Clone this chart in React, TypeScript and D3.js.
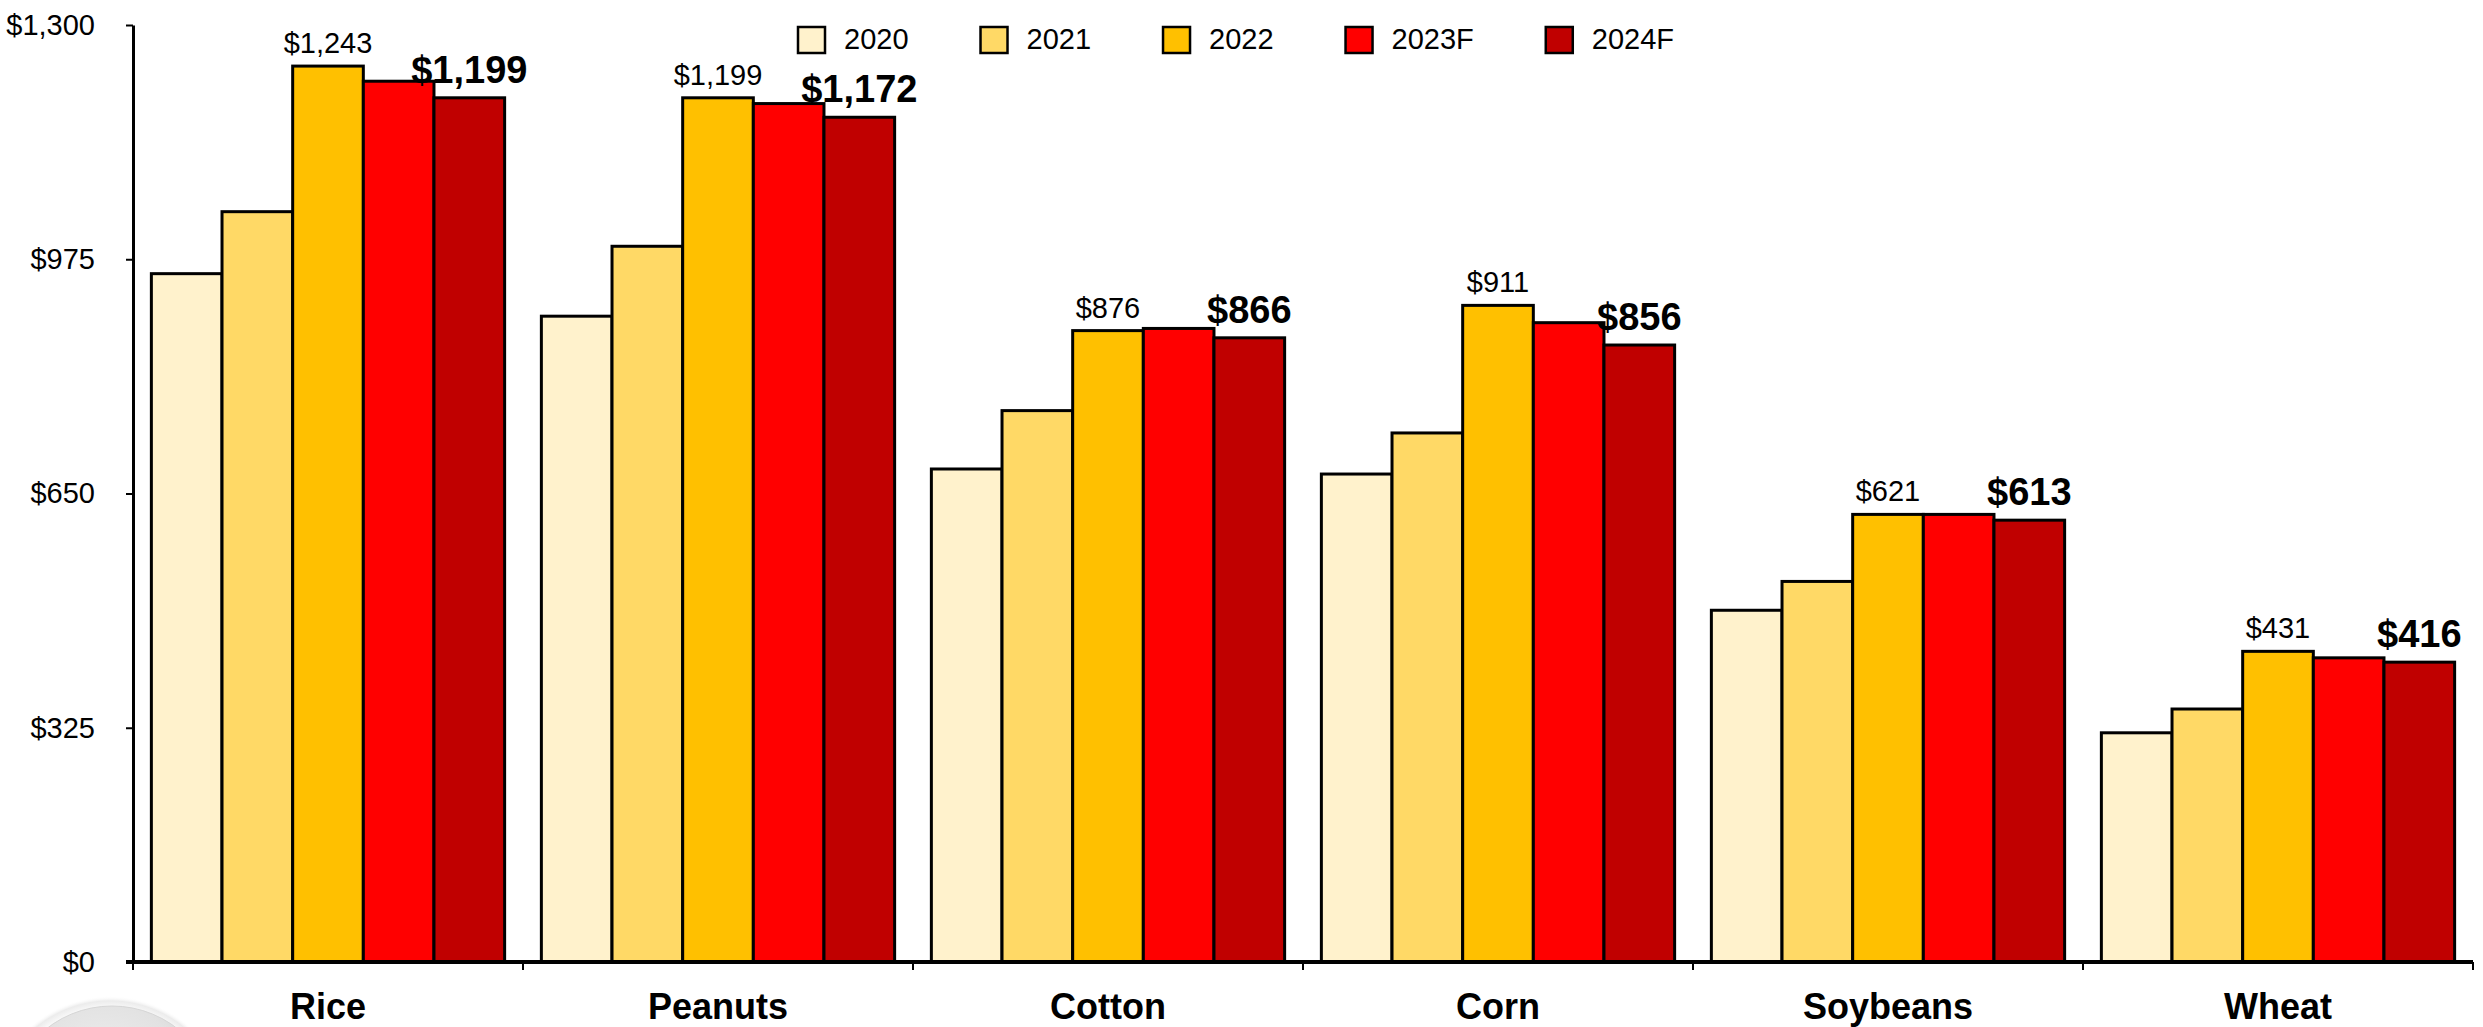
import React, { useEffect, useRef } from "react";
import * as d3 from "d3";

const categories = ["Rice", "Peanuts", "Cotton", "Corn", "Soybeans", "Wheat"];
const seriesNames = ["2020", "2021", "2022", "2023F", "2024F"];
const seriesColors = ["#FFF2CC", "#FFD966", "#FFC000", "#FF0000", "#C00000"];

const values2020 = [955, 896, 684, 677, 488, 318];
const values2021 = [1041, 993, 765, 734, 528, 351];
const values2022 = [1243, 1199, 876, 911, 621, 431];
const values2023F = [1222, 1191, 879, 887, 621, 422];
const values2024F = [1199, 1172, 866, 856, 613, 416];

const yTicks = [0, 325, 650, 975, 1300];

const seriesValues = [values2020, values2021, values2022, values2023F, values2024F];

const FONT = "'Liberation Sans', Arial, Helvetica, sans-serif";

const W = 2483;
const H = 1027;
const margin = { top: 25, left: 133 };
const bandStep = 390;

const fmt = (v: number) => "$" + d3.format(",")(v);

function textWidth(text: string, font: string) {
  const c = document.createElement("canvas").getContext("2d");
  if (!c) return text.length * 16;
  c.font = font;
  return c.measureText(text).width;
}

const App: React.FC = () => {
  const yAxisRef = useRef<SVGGElement>(null);

  const x0 = d3
    .scaleBand<string>()
    .domain(categories)
    .range([margin.left, margin.left + categories.length * bandStep])
    .paddingInner(0)
    .paddingOuter(0);

  const x1 = d3
    .scaleBand<string>()
    .domain(seriesNames)
    .range([0, x0.bandwidth()])
    .paddingInner(0)
    .paddingOuter(0.26);

  const y = d3.scaleLinear().domain([0, 1300]).range([962, margin.top]);

  useEffect(() => {
    if (!yAxisRef.current) return;
    const axis = d3
      .axisLeft(y)
      .tickValues(yTicks)
      .tickFormat((d) => fmt(d as number))
      .tickSize(7)
      .tickSizeOuter(0)
      .tickPadding(31);
    const g = d3.select(yAxisRef.current);
    g.call(axis);
    g.attr("font-family", null).attr("font-size", null);
    g.select(".domain").attr("stroke", "#000").attr("stroke-width", 3);
    g.selectAll(".tick line").attr("stroke", "#000").attr("stroke-width", 2);
    g.selectAll(".tick text")
      .attr("fill", "#000")
      .style("font-family", FONT)
      .style("font-size", "29px");
  }, []);

  // legend layout: square, text, fixed gap
  const legendFont = `29px ${FONT}`;
  let lx = 798;
  const legendItems = seriesNames.map((s, i) => {
    const item = { name: s, color: seriesColors[i], x: lx };
    lx += 46 + textWidth(s, legendFont) + 72;
    return item;
  });

  const axisRight = x0.range()[1];

  return (
    <svg
      width={W}
      height={H}
      style={{ position: "absolute", left: 0, top: 0, background: "#fff" }}
      fontFamily={FONT}
    >
      <defs>
        <radialGradient id="coinGrad" cx="0.45" cy="0.4" r="0.6">
          <stop offset="0%" stopColor="#f4f4f4" />
          <stop offset="70%" stopColor="#e2e2e2" />
          <stop offset="100%" stopColor="#cfcfcf" />
        </radialGradient>
        <radialGradient id="coinShadow" cx="0.5" cy="0.5" r="0.5">
          <stop offset="88%" stopColor="#ffffff" />
          <stop offset="96%" stopColor="#ececec" />
          <stop offset="100%" stopColor="#ffffff" stopOpacity={0} />
        </radialGradient>
      </defs>

      {/* coin picture in the corner */}
      <circle cx={110} cy={1117} r={121} fill="url(#coinShadow)" />
      <circle cx={112} cy={1112} r={106} fill="url(#coinGrad)" stroke="#d6d6d6" strokeWidth={1} />

      {/* Bars */}
      {categories.map((c, ci) => (
        <g key={c} transform={`translate(${x0(c)},0)`}>
          {seriesNames.map((s, si) => {
            const v = seriesValues[si][ci];
            return (
              <rect
                key={s}
                x={x1(s)}
                y={y(v)}
                width={x1.bandwidth()}
                height={y(0) - y(v)}
                fill={seriesColors[si]}
                stroke="#000"
                strokeWidth={3}
              />
            );
          })}
          <text
            x={(x1("2022") as number) + x1.bandwidth() / 2}
            y={y(values2022[ci]) - 13}
            textAnchor="middle"
            fontSize={29}
            fill="#000"
          >
            {fmt(values2022[ci])}
          </text>
          <text
            x={(x1("2024F") as number) + x1.bandwidth() / 2}
            y={y(values2024F[ci]) - 15}
            textAnchor="middle"
            fontSize={38}
            fontWeight="bold"
            fill="#000"
          >
            {fmt(values2024F[ci])}
          </text>
          <text
            x={x0.bandwidth() / 2}
            y={1019}
            textAnchor="middle"
            fontSize={36}
            fontWeight="bold"
            fill="#000"
          >
            {c}
          </text>
        </g>
      ))}

      {/* Y axis */}
      <g ref={yAxisRef} transform={`translate(${margin.left},0)`} />

      {/* X axis */}
      <line x1={margin.left - 7} x2={axisRight} y1={y(0)} y2={y(0)} stroke="#000" strokeWidth={4} />
      {[...categories.map((c) => x0(c) as number), axisRight].map((tx, i) => (
        <line key={i} x1={tx} x2={tx} y1={y(0)} y2={y(0) + 8} stroke="#000" strokeWidth={2} />
      ))}

      {/* Legend */}
      {legendItems.map((d) => (
        <g key={d.name} transform={`translate(${d.x},27)`}>
          <rect x={0} y={0} width={27} height={26} fill={d.color} stroke="#000" strokeWidth={2.5} />
          <text x={46} y={22} fontSize={29} fill="#000">
            {d.name}
          </text>
        </g>
      ))}
    </svg>
  );
};

export default App;
